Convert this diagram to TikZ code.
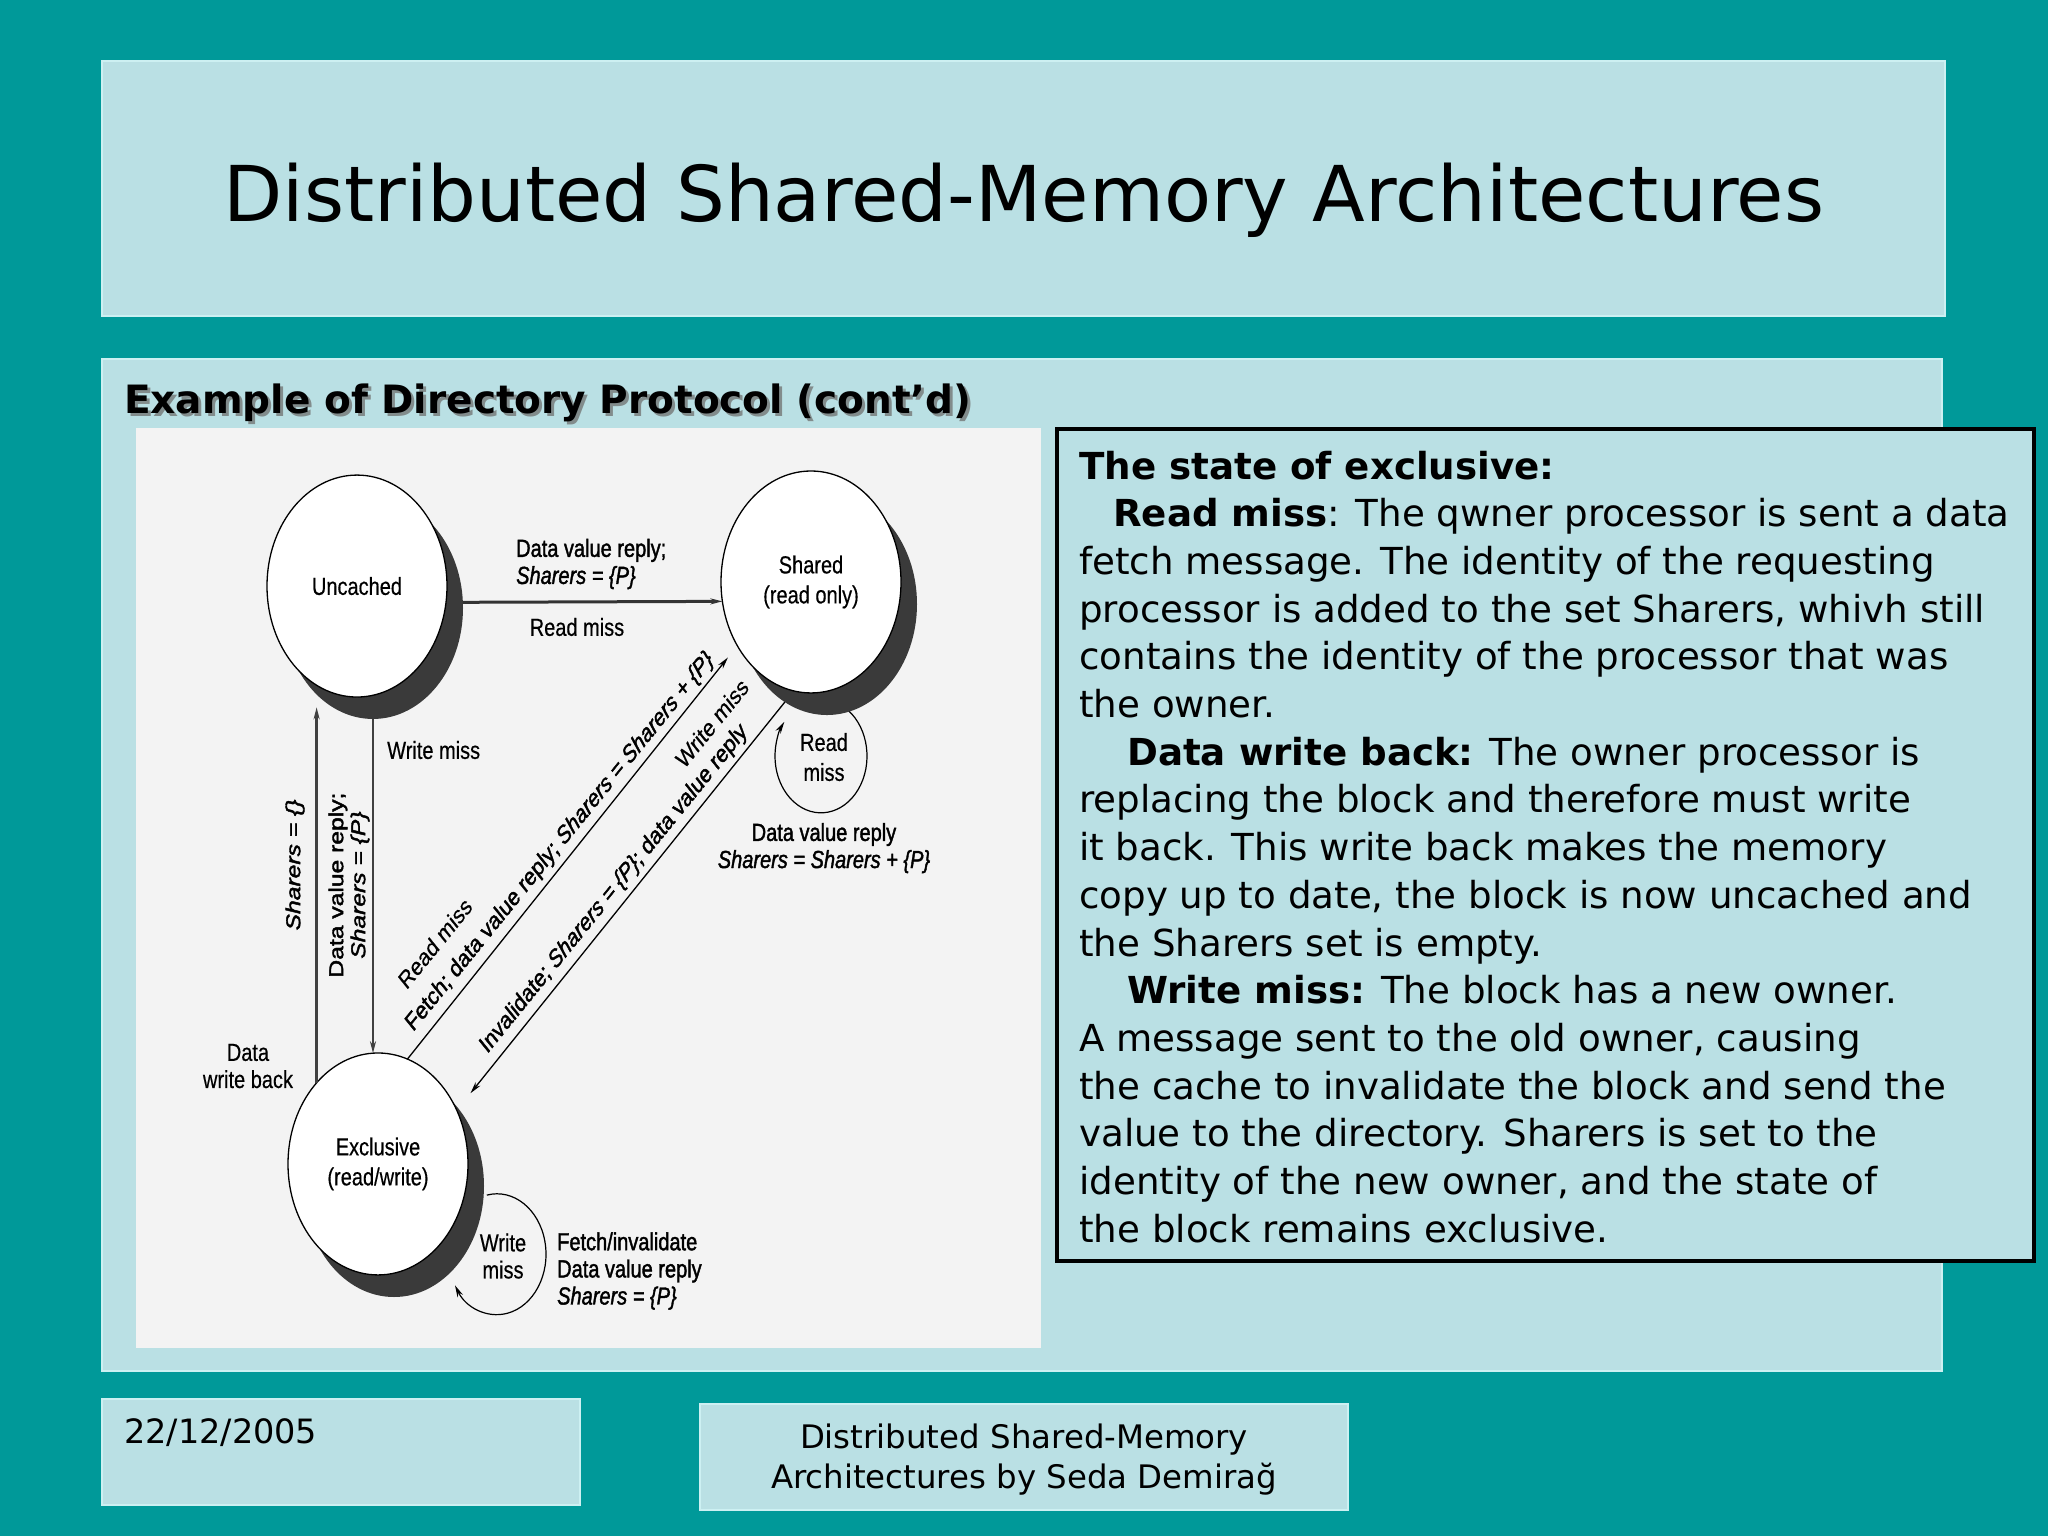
\documentclass[tikz,border=0pt]{standalone}
\usepackage{fontspec}
\setmainfont{DejaVu Sans}
\newfontfamily\diagfont[FakeBold=0.5]{Liberation Sans}
\newfontfamily\diagboldfont[FakeBold=1.8]{Liberation Sans}
\usetikzlibrary{arrows.meta,calc}
\definecolor{bgteal}{RGB}{0,153,153}
\definecolor{boxcyan}{RGB}{186,224,228}
\definecolor{boxedge}{RGB}{205,240,242}
\definecolor{scanbg}{RGB}{243,243,243}
\definecolor{shade}{RGB}{58,58,58}
\definecolor{subshadow}{RGB}{130,140,140}
\begin{document}
\begin{tikzpicture}[x=1pt,y=1pt,
  dstate/.style={circle, draw=black, line width=1.3pt, fill=white, minimum size=180pt, inner sep=0pt, outer sep=0pt, align=center, font=\diagfont\fontsize{20}{24.3}\selectfont},
  dshade/.style={circle, fill=shade, minimum size=180pt, inner sep=0pt, outer sep=0pt},
  lab/.style={inner sep=0pt, align=center, font=\diagfont\fontsize{20}{22}\selectfont},
  actlab/.style={inner sep=0pt, align=center, font=\diagboldfont\fontsize{20}{22}\selectfont},
  arrowtip/.style={-{Stealth[length=12pt,width=6pt]}},
  thickarr/.style={arrowtip, line width=3pt, draw=black!80},
  vertarr/.style={arrowtip, line width=2.6pt, draw=black!75},
  thinarr/.style={arrowtip, line width=1.3pt, draw=black},
  loopline/.style={arrowtip, line width=1.2pt, draw=black},
  slidebox/.style={fill=boxcyan, draw=boxedge, line width=1.5pt},
  body/.style={anchor=base west, inner sep=0pt, font=\fontsize{37.2}{47.7}\selectfont},
  foot/.style={inner sep=0pt, font=\fontsize{32.4}{40}\selectfont}
]
% background and slide boxes
\fill[bgteal] (0,0) rectangle (2048,-1536);
\useasboundingbox (0,0) rectangle (2048,-1536);
\draw[slidebox] (102,-61) rectangle (1945,-316);
\draw[slidebox] (102,-359) rectangle (1942,-1371);
\draw[slidebox] (102,-1399) rectangle (580,-1505);
\draw[slidebox] (700,-1404) rectangle (1348,-1510);

% title
\node[anchor=base, inner sep=0pt, font=\fontsize{77}{90}\selectfont] (title) at (1024,-221) {Distributed Shared-Memory Architectures};

% subtitle with shadow
\node[anchor=base west, inner sep=0pt, font=\bfseries\fontsize{39}{45}\selectfont, text=subshadow] (subsh) at (127,-416) {Example of Directory Protocol (cont’d)};
\node[anchor=base west, inner sep=0pt, font=\bfseries\fontsize{39}{45}\selectfont] (sub) at (124,-413) {Example of Directory Protocol (cont’d)};

% scanned figure area
\fill[scanbg] (136,-428) rectangle (1041,-1348);

% the figure is drawn vertically stretched, as in the scan
\begin{scope}[yscale=1.233, transform shape]
% loops (drawn first, partly hidden by the states)
\coordinate (rl) at (821,-613.1);
\coordinate (wl) at (497,-1017);
\draw[loopline] ($(rl)+(54:46)$) arc[start angle=54, end angle=-217, radius=46];
\draw[loopline] ($(wl)+(102:49)$) arc[start angle=102, end angle=-149, radius=49];

% states
\node[dshade] (uncsh) at (373,-493.1) {};
\node[dstate] (unc) at (357,-475.3) {\raisebox{-5pt}{Uncached}};
\node[dshade] (shash) at (827,-489.9) {};
\node[dstate] (sha) at (811,-472.0) {Shared\\(read only)};
\node[dshade] (excsh) at (394,-961.9) {};
\node[dstate] (exc) at (378,-944.0) {Exclusive\\(read/write)};

% connectors
\coordinate (dwbtop) at ($(uncsh.south)+(0,9.7)$);
\draw[thickarr] (uncsh.3.1) -- (sha.190.4);
\draw[vertarr] (exc.133.5) -- (exc.133.5 |- dwbtop);
\draw[vertarr] (uncsh.south) -- (uncsh.south |- exc.north);
\draw[thinarr, shorten >=15pt] (exc.71.5) -- (sha.215.9);
\draw[thinarr, shorten >=22pt] (shash.242.9) -- (exc.29.2);

% labels
\node[actlab, align=left, anchor=west] (l1) at (516,-457.4) {Data value reply;\\\itshape Sharers = \{P\}};
\node[lab] (l2) at (577,-508.5) {Read miss};
\node[lab, anchor=west] (l3) at (387,-608.3) {Write miss};
\node[actlab, rotate=90] (l4) at (295,-701.5) {\itshape Sharers = \{\}};
\node[actlab, rotate=90] (l5) at (349,-717.8) {Data value reply;\\\itshape Sharers = \{P\}};
\node[lab] (l6) at (248,-864.6) {Data\\write back};
\node[actlab, rotate=45] (l7) at (560,-682.9) {Fetch; data value reply; \itshape Sharers = Sharers + \{P\}};
\node[lab, rotate=45] (l8) at (435,-764.8) {Read miss};
\node[actlab, rotate=45] (l9) at (614,-721.0) {Invalidate; \textit{Sharers = \{P\}}; data value reply};
\node[lab, rotate=45] (l10) at (712,-586.4) {Write miss};
\node[lab, font=\diagfont\fontsize{20}{24.3}\selectfont] (l11) at (824,-614.0) {Read\\miss};
\node[actlab] (l12) at (824,-687.8) {Data value reply\\\itshape Sharers = Sharers + \{P\}};
\node[lab] (l13) at (503,-1018.7) {Write\\miss};
\node[actlab, align=left, anchor=west] (l14) at (557,-1030.8) {Fetch/invalidate\\Data value reply\\\itshape Sharers = \{P\}};
\end{scope}

% right text box
\draw[fill=boxcyan, draw=black, line width=4pt] (1057,-429) rectangle (2034,-1261);
\node[body] (b0) at (1079,-479) {\textbf{The state of exclusive:}};
\node[body] (b1) at (1113,-526.7) {\textbf{Read miss}: The qwner processor is sent a data};
\node[body] (b2) at (1079,-574.4) {fetch message. The identity of the requesting};
\node[body] (b3) at (1079,-622.1) {processor is added to the set Sharers, whivh still};
\node[body] (b4) at (1079,-669.8) {contains the identity of the processor that was};
\node[body] (b5) at (1079,-717.5) {the owner.};
\node[body] (b6) at (1127,-765.2) {\textbf{Data write back:} The owner processor is};
\node[body] (b7) at (1079,-812.9) {replacing the block and therefore must write};
\node[body] (b8) at (1079,-860.6) {it back. This write back makes the memory};
\node[body] (b9) at (1079,-908.3) {copy up to date, the block is now uncached and};
\node[body] (b10) at (1079,-956) {the Sharers set is empty.};
\node[body] (b11) at (1127,-1003.7) {\textbf{Write miss:} The block has a new owner.};
\node[body] (b12) at (1079,-1051.4) {A message sent to the old owner, causing};
\node[body] (b13) at (1079,-1099.1) {the cache to invalidate the block and send the};
\node[body] (b14) at (1079,-1146.8) {value to the directory. Sharers is set to the};
\node[body] (b15) at (1079,-1194.5) {identity of the new owner, and the state of};
\node[body] (b16) at (1079,-1242.2) {the block remains exclusive.};

% footers
\node[foot, anchor=base west, font=\fontsize{33.5}{40}\selectfont] (date) at (124,-1443) {22/12/2005};
\node[foot, anchor=base] (f1) at (1024,-1448) {Distributed Shared-Memory};
\node[foot, anchor=base] (f2) at (1024,-1488) {Architectures by Seda Demirağ};
\end{tikzpicture}
\end{document}
